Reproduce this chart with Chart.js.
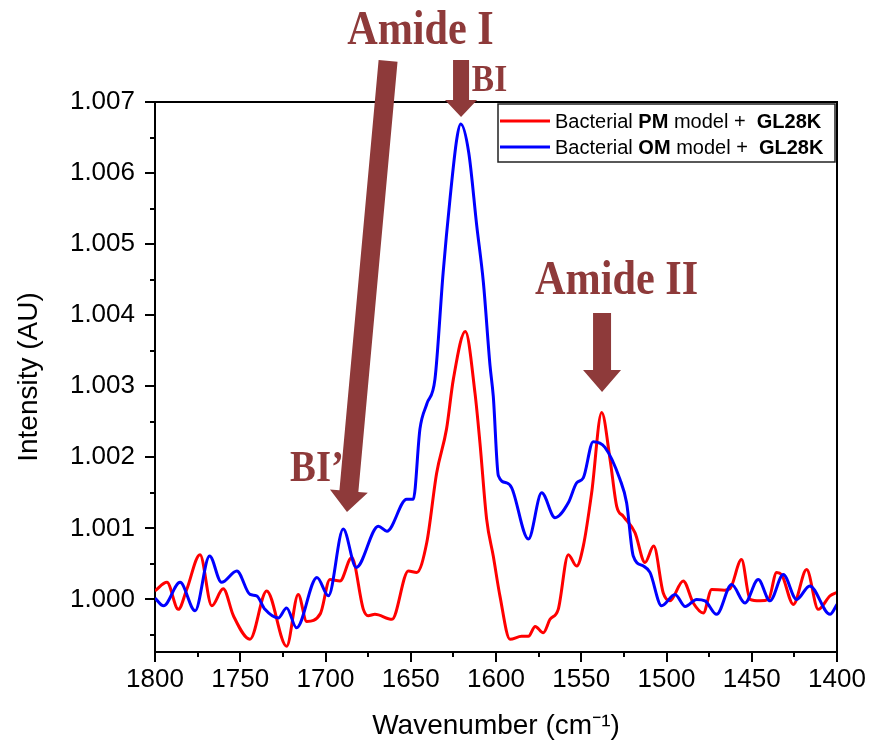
<!DOCTYPE html>
<html><head><meta charset="utf-8">
<script src="https://cdn.jsdelivr.net/npm/chart.js@4.4.1/dist/chart.umd.min.js"></script>
<style>html,body{margin:0;padding:0;background:#fff;}#wrap{width:872px;height:746px;}</style>
</head><body><div id="wrap"><canvas id="c" width="872" height="746"></canvas></div>
<script>
// ---- data ----
const pmWavenumber = [1800,1793,1786.3,1781.4,1773.6,1766.7,1760,1754,1744.3,1734.5,1722.8,1716,1711,1703,1697.4,1691.5,1684.6,1677.8,1675,1671,1661,1651.4,1646.5,1640.6,1634.8,1629,1625,1618,1612.3,1609.4,1605.5,1601.6,1597.7,1591.8,1585,1581,1577,1572.3,1568.3,1563.5,1557.6,1552.7,1548.8,1543.9,1538,1533.1,1529.2,1525.3,1518.5,1512.6,1507.5,1501.9,1498,1490.2,1484.3,1478.4,1473.5,1466,1462.8,1456,1451,1445.2,1440.2,1435.4,1432.5,1425.6,1417.8,1411,1404.1,1400];
const pmIntensity = [1.00012,1.00024,0.99986,1.00014,1.00063,0.99991,1.00015,0.99977,0.99944,1.00012,0.99934,1.00007,0.99969,0.99980,1.00028,1.00026,1.00059,0.99986,0.99977,0.99979,0.99972,1.00040,1.00038,1.00080,1.00178,1.00240,1.00310,1.00377,1.00290,1.00220,1.00113,1.00061,1.00005,0.99944,0.99948,0.99948,0.99962,0.99953,0.99972,0.99986,1.00063,1.00047,1.00075,1.00150,1.00263,1.00197,1.00131,1.00117,1.00094,1.00052,1.00075,1.00009,0.99998,1.00026,0.99995,0.99981,1.00014,1.00013,1.00015,1.00056,1.00000,0.99998,1.00000,1.00038,1.00035,0.99993,1.00042,0.99986,1.00005,1.00010];
const omWavenumber = [1800,1795,1785.3,1776.5,1768,1761,1752,1744.3,1740.4,1735.5,1727.7,1722.8,1717,1705,1698.3,1689.6,1682,1669,1664,1652.4,1648.5,1644.6,1640.6,1635.8,1631,1627,1623,1620.7,1616,1611.3,1607.4,1603.5,1601.6,1598.6,1593.7,1590.8,1581,1573.2,1565.4,1557.6,1552.7,1548.8,1543,1536.1,1527.3,1523.4,1519.5,1513.6,1509.7,1502.9,1495,1489,1482.3,1477.4,1470.6,1461.8,1454,1446.2,1439.3,1431.5,1423.7,1416,1404.1,1400];
const omIntensity = [1.00002,0.99991,1.00024,0.99984,1.00061,1.00024,1.00040,1.00007,1.00005,0.99986,0.99974,0.99988,0.99960,1.00031,1.00005,1.00099,1.00045,1.00103,1.00096,1.00141,1.00141,1.00240,1.00275,1.00310,1.00460,1.00563,1.00648,1.00669,1.00629,1.00526,1.00446,1.00329,1.00286,1.00174,1.00164,1.00157,1.00085,1.00150,1.00115,1.00136,1.00164,1.00171,1.00222,1.00214,1.00169,1.00136,1.00061,1.00047,1.00038,0.99991,1.00007,0.99990,1.00000,0.99998,0.99979,1.00021,0.99995,1.00028,0.99998,1.00035,1.00000,1.00019,0.99979,0.99993];

const seriesLabels = ['Bacterial PM model +  GL28K', 'Bacterial OM model +  GL28K'];
const legendParts = [
  [['Bacterial ', false], ['PM', true], [' model +  ', false], ['GL28K', true]],
  [['Bacterial ', false], ['OM', true], [' model +  ', false], ['GL28K', true]]
];
const xMin = 1400, xMax = 1800, xStep = 50;
const yMin = 0.99926, yMax = 1.007, yStep = 0.001;

// annotations (in data units)
const noteTexts = ['Amide I', 'BI', 'Amide II', 'BI\u2019'];
const noteWn = [1644.3, 1603.8, 1529.3, 1705.0];
const noteInt = [1.007817, 1.007155, 1.004296, 1.001662];
const noteSize = [48, 38, 48, 44];
const arrowFromWn = [1663.3, 1620.5, 1537.8];
const arrowFromInt = [1.00758, 1.00759, 1.00403];
const arrowToWn = [1687.4, 1620.5, 1537.8];
const arrowToInt = [1.00123, 1.00679, 1.00292];
const arrowShaft = [19, 16, 18];
const arrowHeadW = [38, 32, 38];
const arrowHeadL = [21, 17, 22];

const FONT = "'Liberation Sans', Arial, sans-serif";
const NOTE_COLOR = '#8e3a3a';

function drawArrow(ctx, x1, y1, x2, y2, sw, hw, hl) {
  const dx = x2 - x1, dy = y2 - y1, len = Math.hypot(dx, dy);
  const ux = dx / len, uy = dy / len, nx = -uy, ny = ux;
  const bx = x2 - ux * hl, by = y2 - uy * hl;
  ctx.beginPath();
  ctx.moveTo(x1 + nx * sw / 2, y1 + ny * sw / 2);
  ctx.lineTo(bx + nx * sw / 2, by + ny * sw / 2);
  ctx.lineTo(bx + nx * hw / 2, by + ny * hw / 2);
  ctx.lineTo(x2, y2);
  ctx.lineTo(bx - nx * hw / 2, by - ny * hw / 2);
  ctx.lineTo(bx - nx * sw / 2, by - ny * sw / 2);
  ctx.lineTo(x1 - nx * sw / 2, y1 - ny * sw / 2);
  ctx.closePath();
  ctx.fill();
}

const decor = {
  id: 'decor',
  afterDraw(chart) {
    const { ctx, chartArea: a, scales: { x, y } } = chart;
    ctx.save();
    ctx.strokeStyle = '#000';
    ctx.lineWidth = 2;
    ctx.beginPath();
    ctx.moveTo(a.left - 1, a.top);
    ctx.lineTo(a.right, a.top);
    ctx.lineTo(a.right, a.bottom + 1);
    ctx.stroke();
    // ticks
    ctx.beginPath();
    for (let i = 0; i <= (xMax - xMin) / xStep * 2; i++) {
      const v = xMin + i * xStep / 2;
      const px = Math.round(x.getPixelForValue(v));
      ctx.moveTo(px, a.bottom);
      ctx.lineTo(px, a.bottom + (i % 2 === 0 ? 10 : 5));
    }
    const yStart = Math.ceil(yMin / (yStep / 2) - 1e-6);
    const yEnd = Math.floor(yMax / (yStep / 2) + 1e-6);
    for (let k = yStart; k <= yEnd; k++) {
      const v = k * yStep / 2;
      const py = Math.round(y.getPixelForValue(v));
      ctx.moveTo(a.left, py);
      ctx.lineTo(a.left - (k % 2 === 0 ? 10 : 5), py);
    }
    ctx.stroke();

    // legend
    const lx0 = 498, ly0 = 104, lw = 337, lh = 58;
    ctx.fillStyle = '#fff';
    ctx.fillRect(lx0, ly0, lw, lh);
    ctx.lineWidth = 1.5;
    ctx.strokeStyle = '#222';
    ctx.strokeRect(lx0, ly0, lw, lh);
    chart.data.datasets.slice().sort((p, q) => p.legendIndex - q.legendIndex).forEach((ds, i) => {
      const cy = ly0 + 17 + i * 26;
      ctx.strokeStyle = ds.borderColor;
      ctx.lineWidth = 3;
      ctx.beginPath();
      ctx.moveTo(lx0 + 2, cy);
      ctx.lineTo(lx0 + 52, cy);
      ctx.stroke();
      let tx = lx0 + 57;
      ctx.fillStyle = '#000';
      ctx.textBaseline = 'middle';
      ctx.textAlign = 'left';
      legendParts[ds.legendIndex].forEach(([t, b]) => {
        ctx.font = (b ? 'bold ' : '') + '20px ' + FONT;
        ctx.fillText(t, tx, cy + 1);
        tx += ctx.measureText(t).width;
      });
    });

    // annotations
    ctx.fillStyle = NOTE_COLOR;
    for (let i = 0; i < arrowFromWn.length; i++) {
      drawArrow(ctx, x.getPixelForValue(arrowFromWn[i]), y.getPixelForValue(arrowFromInt[i]),
        x.getPixelForValue(arrowToWn[i]), y.getPixelForValue(arrowToInt[i]),
        arrowShaft[i], arrowHeadW[i], arrowHeadL[i]);
    }
    ctx.textAlign = 'center';
    ctx.textBaseline = 'alphabetic';
    for (let i = 0; i < noteTexts.length; i++) {
      ctx.save();
      ctx.translate(x.getPixelForValue(noteWn[i]), y.getPixelForValue(noteInt[i]));
      ctx.scale(0.88, 1);
      ctx.font = 'bold ' + noteSize[i] + "px 'Liberation Serif', 'Times New Roman', serif";
      ctx.fillText(noteTexts[i], 0, 0);
      ctx.restore();
    }
    ctx.restore();
  }
};

new Chart(document.getElementById('c'), {
  type: 'line',
  data: {
    datasets: [
      {
        label: seriesLabels[1], legendIndex: 1, order: 1,
        data: omWavenumber.map((w, i) => ({ x: w, y: omIntensity[i] })),
        borderColor: '#0000ff', borderWidth: 3, pointRadius: 0, fill: false,
        cubicInterpolationMode: 'monotone'
      },
      {
        label: seriesLabels[0], legendIndex: 0, order: 2,
        data: pmWavenumber.map((w, i) => ({ x: w, y: pmIntensity[i] })),
        borderColor: '#ff0000', borderWidth: 3, pointRadius: 0, fill: false,
        cubicInterpolationMode: 'monotone'
      }
    ]
  },
  options: {
    responsive: false,
    animation: false,
    devicePixelRatio: 1,
    layout: { padding: { top: 102, right: 35, left: 0, bottom: 0 } },
    plugins: { legend: { display: false }, tooltip: { enabled: false } },
    scales: {
      x: {
        type: 'linear', reverse: true, min: xMin, max: xMax,
        ticks: { stepSize: xStep, padding: 12, color: '#000', font: { family: FONT, size: 26 }, maxRotation: 0, autoSkip: false, callback: v => String(v) },
        grid: { display: false, drawTicks: false },
        border: { display: true, color: '#000', width: 2 },
        title: { display: true, text: 'Wavenumber (cm\u207B\u00B9)', color: '#000', font: { family: FONT, size: 28 }, padding: { top: 0, bottom: 3 } },
        afterFit(s) { s.height = 94; s.paddingLeft = 0; s.paddingRight = 0; }
      },
      y: {
        type: 'linear', min: yMin, max: yMax,
        ticks: { stepSize: yStep, includeBounds: false, padding: 20, color: '#000', font: { family: FONT, size: 26 }, callback: v => v.toFixed(3) },
        grid: { display: false, drawTicks: false },
        border: { display: true, color: '#000', width: 2 },
        title: { display: true, text: 'Intensity (AU)', color: '#000', font: { family: FONT, size: 28 }, padding: { top: 12, bottom: 0 } },
        afterFit(s) { s.width = 155; s.paddingTop = 0; s.paddingBottom = 0; }
      }
    }
  },
  plugins: [decor]
});
</script>
</body></html>
